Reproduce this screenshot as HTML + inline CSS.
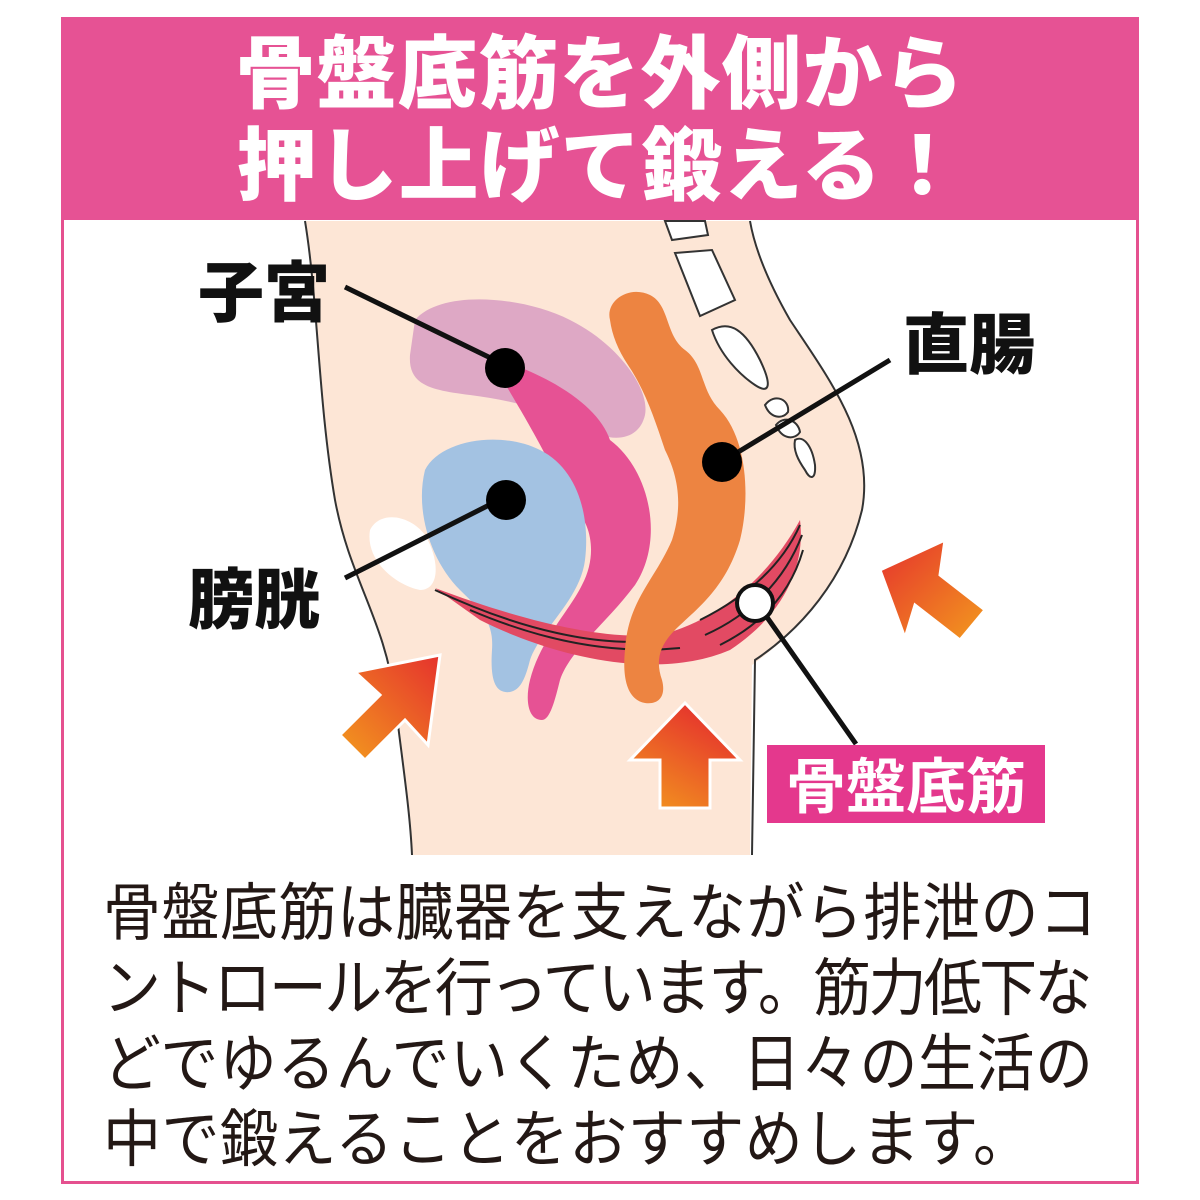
<!DOCTYPE html>
<html><head><meta charset="utf-8"><style>
html,body{margin:0;padding:0;background:#fff;width:1200px;height:1200px;overflow:hidden}
.frame{position:absolute;left:61px;top:17px;width:1072px;height:1161px;border:3px solid #e5508f;background:#fff}
.head{position:absolute;left:61px;top:17px;width:1078px;height:203px;background:#e65294;color:#fff;font-family:"Liberation Sans","Noto Sans CJK JP",sans-serif;font-weight:900;font-size:80px;line-height:92px;text-align:center;padding-top:12px;box-sizing:border-box;letter-spacing:1px}
.txt{position:absolute;left:103px;top:876px;font-family:"Liberation Sans","Noto Sans CJK JP",sans-serif;font-size:58px;line-height:70px;color:#231815;letter-spacing:0.5px;white-space:nowrap;transform:scaleY(1.08);transform-origin:0 0}
.n{letter-spacing:-2.7px}
svg{position:absolute;left:0;top:0}
</style></head><body>
<div class="frame"></div>
<div class="head">骨盤底筋を外側から<br>押し上げて鍛える！</div>
<svg width="1200" height="1200" viewBox="0 0 1200 1200">
<defs>
<linearGradient id="g" x1="0" y1="1" x2="1" y2="0"><stop offset="0" stop-color="#f39a1e"/><stop offset="1" stop-color="#e5322d"/></linearGradient>
<linearGradient id="g2" x1="0" y1="1" x2="0.6" y2="0"><stop offset="0" stop-color="#f39a1e"/><stop offset="1" stop-color="#e5322d"/></linearGradient>
<linearGradient id="g3" x1="1" y1="1" x2="0" y2="0"><stop offset="0" stop-color="#f39a1e"/><stop offset="1" stop-color="#e5322d"/></linearGradient>
</defs>
<path d="M305 221 C318 300 318 400 335 500 C350 580 385 620 395 700 C402 760 410 810 412 855 L750 855 L752 665 C800 630 845 580 862 510 C875 440 830 380 790 320 C770 285 755 250 750 221 Z" fill="#fde6d6"/>
<path d="M305 221 C318 300 318 400 335 500 C350 580 385 620 395 700 C402 760 410 810 412 855" fill="none" stroke="#333" stroke-width="2"/>
<path d="M750 221 C755 250 770 285 790 320 C830 380 875 440 862 510 C845 580 800 630 755 660 L752 855" fill="none" stroke="#333" stroke-width="2"/>
<g fill="#fff" stroke="#333" stroke-width="2">
<path d="M665 221 L705 221 L708 235 L672 240 Z"/>
<path d="M675 253 L712 250 L735 300 L700 316 Z"/>
<path d="M712 330 C730 320 745 330 760 360 C772 385 770 395 755 385 C740 375 720 355 712 330Z"/>
<path d="M765 405 C775 392 790 400 788 412 C782 420 770 418 765 405Z"/>
<path d="M776 425 C784 415 798 420 800 432 C795 440 782 440 776 425Z"/>
<path d="M795 440 C803 435 812 445 815 465 C816 480 810 480 805 470 C798 460 793 450 795 440Z"/>
</g>
<path d="M370 530 C380 510 410 515 425 535 C440 560 440 590 420 590 C395 585 365 560 370 530Z" fill="#fff"/>
<path d="M415 320 C440 290 520 295 570 320 C620 345 650 390 645 415 C638 445 605 440 590 430 C550 410 510 400 470 395 C430 390 408 385 410 355 Z" fill="#dea8c5"/>
<path d="M500 360 C560 380 600 410 610 440 C650 470 665 540 635 585 C605 625 570 650 560 680 C555 700 550 720 542 720 C528 720 525 700 530 680 C540 640 570 610 582 585 C598 555 592 520 570 505 C540 440 520 410 500 375 Z" fill="#e65294"/>
<path d="M425 470 C440 440 500 430 540 450 C580 470 590 520 585 560 C580 600 540 630 530 660 C525 680 520 690 510 692 C495 694 490 680 492 650 C494 620 480 610 460 590 C430 560 415 510 425 470Z" fill="#a3c2e2"/>
<path d="M435 588 C520 620 600 640 660 635 C720 620 770 575 800 520 C805 560 790 610 730 650 C660 680 560 660 480 620 Z" fill="#e24a63"/>
<g fill="none" stroke="#222" stroke-width="2">
<path d="M435 590 C520 630 600 648 660 640"/>
<path d="M470 610 C540 640 610 655 680 648"/>
<path d="M700 620 C740 600 780 570 800 525"/>
<path d="M705 635 C750 615 785 580 802 535"/>
<path d="M720 645 C760 625 790 595 803 550"/>
</g>
<path d="M610 320 C605 300 630 285 650 295 C670 305 665 335 685 350 C705 365 700 390 720 410 C748 440 750 500 740 540 C725 590 695 610 675 630 C660 645 655 660 662 680 C666 695 660 705 645 703 C628 700 622 680 625 650 C628 600 655 580 672 540 C685 500 675 470 665 450 C655 420 645 390 628 365 C618 350 612 335 610 320Z" fill="#ed8441"/>
<path d="M440 655 L428 745 L405 720 L365 760 L340 735 L380 695 L355 672 Z" fill="url(#g)" stroke="#fff" stroke-width="3"/>
<path d="M685 703 L740 760 L710 760 L710 808 L660 808 L660 760 L630 760 Z" fill="url(#g2)" stroke="#fff" stroke-width="3"/>
<path d="M880 570 L945 540 L940 575 L985 610 L960 640 L915 605 L905 638 Z" fill="url(#g3)" stroke="#fff" stroke-width="3"/>
<g stroke="#111" stroke-width="5" fill="none">
<line x1="345" y1="287" x2="505" y2="365"/>
<line x1="345" y1="578" x2="505" y2="497"/>
<line x1="890" y1="360" x2="725" y2="460"/>
<line x1="757" y1="603" x2="856" y2="744"/>
</g>
<circle cx="505" cy="368" r="20" fill="#000"/>
<circle cx="506" cy="500" r="20" fill="#000"/>
<circle cx="722" cy="462" r="20" fill="#000"/>
<circle cx="755" cy="603" r="18" fill="#fff" stroke="#111" stroke-width="4"/>
<g font-family="Liberation Sans,Noto Sans CJK JP,sans-serif" font-weight="900" font-size="66" fill="#111">
<text x="198" y="316">子宮</text>
<text x="903" y="368">直腸</text>
<text x="188" y="623">膀胱</text>
</g>
<rect x="767" y="745" width="278" height="78" fill="#e4388d"/>
<text x="906" y="808" text-anchor="middle" font-family="Liberation Sans,Noto Sans CJK JP,sans-serif" font-weight="700" font-size="60" fill="#fff">骨盤底筋</text>
</svg>
<div class="txt">骨盤底筋は臓器を支えながら排泄のコ<br><span class="n">ントロールを行っています。筋力低下な</span><br>どでゆるんでいくため、日々の生活の<br>中で鍛えることをおすすめします。</div>
</body></html>
